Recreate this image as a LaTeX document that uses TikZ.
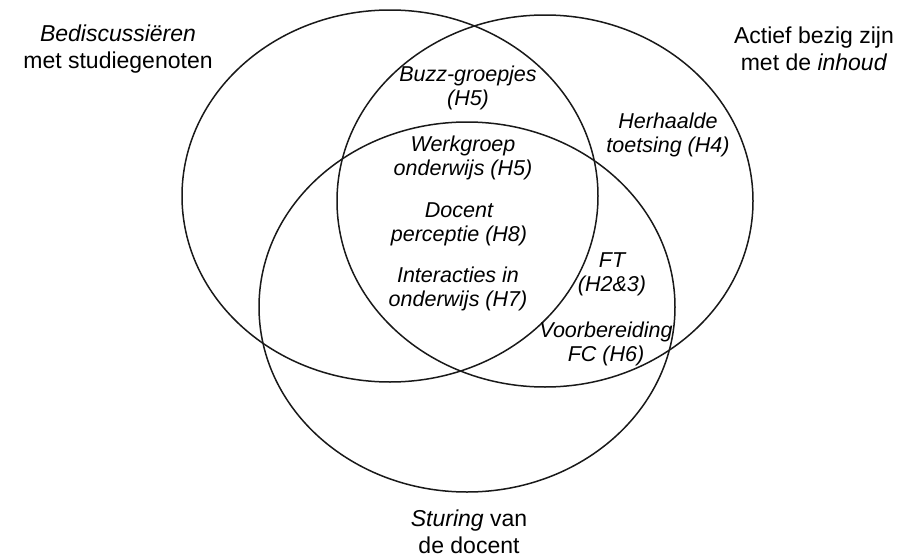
\documentclass[tikz,border=0pt]{standalone}
\usepackage{fontspec}
\setmainfont{Liberation Sans}
\begin{document}
\begin{tikzpicture}[x=1pt,y=-1pt,
  ring/.style={line width=1.5pt, draw=black!90},
  outer/.style={align=center, font=\fontsize{23}{27}\selectfont, inner sep=0pt},
  inner/.style={align=center, font=\fontsize{21.5}{24}\selectfont\itshape, inner sep=0pt}]
\useasboundingbox (0,0) rectangle (908,557);
\draw[ring] (390,196) ellipse [x radius=208pt, y radius=186pt];
\draw[ring] (545,201) ellipse [x radius=208pt, y radius=186pt];
\draw[ring] (467,307) ellipse [x radius=208pt, y radius=185pt];
\node[outer] (lt) at (118,49) {\textit{Bediscussiëren}\\met studiegenoten};
\node[outer] (rt) at (814,49) {Actief bezig zijn\\met de \textit{inhoud}};
\node[outer] (bt) at (469,532) {\textit{Sturing} van\\de docent};
\node[inner] (buzz) at (468,88) {Buzz-groepjes\\(H5)};
\node[inner] (werk) at (463,158) {Werkgroep\\onderwijs (H5)};
\node[inner] (doc) at (459,224) {Docent\\perceptie (H8)};
\node[inner] (inter) at (458,289) {Interacties in\\onderwijs (H7)};
\node[inner] (herh) at (668,135) {Herhaalde\\toetsing (H4)};
\node[inner] (ft) at (612,274) {FT\\(H2\&3)};
\node[inner] (voor) at (606,344) {Voorbereiding\\FC (H6)};
\end{tikzpicture}
\end{document}
